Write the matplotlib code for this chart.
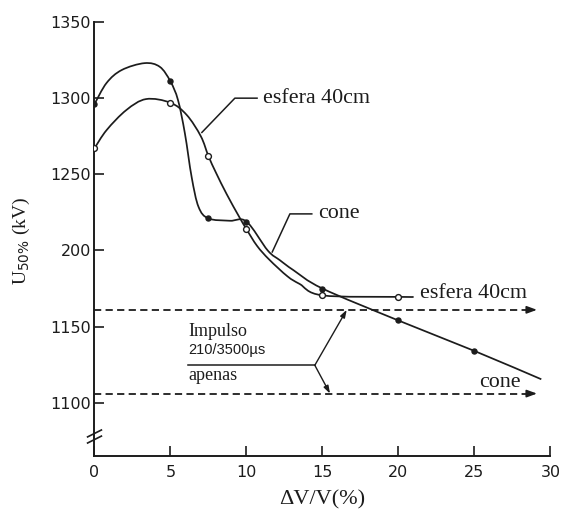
import numpy as np
import matplotlib
matplotlib.use("Agg")
import matplotlib.pyplot as plt
from matplotlib.path import Path
from matplotlib.patches import PathPatch

plt.rcParams["mathtext.fontset"] = "custom"
plt.rcParams["mathtext.rm"] = "Liberation Serif"
plt.rcParams["mathtext.sf"] = "DejaVu Sans"

SERIF = "Liberation Serif"
SANS = "DejaVu Sans"
INK = "#1c1c1c"

# measured points (dV/V in %, U50% in kV)
cone_x = [0, 5, 7.5, 10, 15, 20, 25]
cone_u = [1296, 1311, 1221, 1219, 1175, 1154, 1134]
esfera_x = [0, 5, 7.5, 10, 15, 20]
esfera_u = [1267, 1297, 1262, 1214, 1170.5, 1169.5]

# hand-drawn fitted curves through the measurements
cone_curve_x = [0, 0.8, 1.8, 3.3, 4.3, 5, 5.5, 5.95, 6.4, 6.85, 7.5, 8.9, 10,
                11.4, 12.2, 13.1, 15, 20, 25, 29.4]
cone_curve_u = [1296, 1310, 1318.5, 1323, 1320.6, 1311, 1298.7, 1277, 1248,
                1228.6, 1221, 1219.5, 1219, 1200, 1193.6, 1187, 1175, 1154,
                1134, 1115.4]
esfera_curve_x = [0, 0.8, 2.1, 3.4, 5, 6.07, 7.0, 7.5, 8.0, 8.7, 9.5, 10,
                  10.7, 11.5, 12.7, 13.5, 15, 20, 21.0]
esfera_curve_u = [1267, 1279, 1292.2, 1299.4, 1297, 1289, 1275, 1262, 1251,
                  1237, 1222.5, 1214, 1203, 1194, 1183, 1178, 1170.5, 1169.5,
                  1169.5]

# flashover level with 210/3500 us impulse only
impulse_esfera = 1161
impulse_cone = 1106

y_ticks = [1100, 1150, 1200, 1250, 1300, 1350]
y_tick_labels = ["1100", "1150", "200", "1250", "1300", "1350"]
x_ticks = [0, 5, 10, 15, 20, 25, 30]
x_tick_labels = ["0", "5", "10", "15", "20", "25", "30"]
y_break = 1078


def smooth_path(xs, ys):
    """Catmull-Rom curve through the given points as a cubic Bezier path."""
    pts = np.column_stack([xs, ys]).astype(float)
    ext = np.vstack([pts[0], pts, pts[-1]])
    verts = [pts[0]]
    codes = [Path.MOVETO]
    for i in range(len(pts) - 1):
        p0, p1, p2, p3 = ext[i], ext[i + 1], ext[i + 2], ext[i + 3]
        verts += [p1 + (p2 - p0) / 6, p2 - (p3 - p1) / 6, p2]
        codes += [Path.CURVE4] * 3
    return Path(verts, codes)


fig = plt.figure(figsize=(5.62, 5.11), dpi=100, facecolor="white")
ax = fig.add_axes([0.168, 0.1076, 0.8114, 0.8493])
ax.set_xlim(0, 30)
ax.set_ylim(1065, 1350)

for s in ("top", "right"):
    ax.spines[s].set_visible(False)
for s in ("left", "bottom"):
    ax.spines[s].set_linewidth(1.4)
    ax.spines[s].set_color(INK)

ax.set_xticks(x_ticks)
ax.set_xticklabels(x_tick_labels, fontfamily=SANS)
ax.set_yticks(y_ticks)
ax.set_yticklabels(y_tick_labels, fontfamily=SANS)
ax.tick_params(direction="in", length=7, width=1.2, colors=INK,
               labelsize=11.5)
ax.tick_params(axis="x", pad=6.5)
ax.tick_params(axis="y", pad=2.5)

# axis break on U
brk = Path([(-1, -0.9), (1, 0.1), (-1, -0.1), (1, 0.9)],
           [Path.MOVETO, Path.LINETO, Path.MOVETO, Path.LINETO])
ax.plot([0], [y_break], marker=brk, markersize=11, mew=1.2, mec=INK,
        mfc="none", clip_on=False, zorder=5)

# curves
for cx, cu in ((cone_curve_x, cone_curve_u), (esfera_curve_x, esfera_curve_u)):
    ax.add_patch(PathPatch(smooth_path(cx, cu), fill=False, lw=1.25,
                           edgecolor=INK, clip_on=False, zorder=3))

ax.plot(cone_x, cone_u, "o", ms=3.6, mfc=INK, mec=INK, zorder=4)
ax.plot(esfera_x, esfera_u, "o", ms=4.2, mfc="white", mec=INK, mew=1.0,
        zorder=4)

# dashed impulse-only levels with arrow heads
arrow_end = 29.3
for level in (impulse_esfera, impulse_cone):
    ax.plot([0, arrow_end - 0.6], [level, level], ls="--", lw=1.3,
            dashes=(4, 2.4), color=INK, zorder=2)
    ax.annotate("", xy=(arrow_end, level), xytext=(arrow_end - 0.8, level),
                arrowprops=dict(arrowstyle="-|>,head_length=0.6,head_width=0.22",
                                color=INK, lw=1.2))

# curve labels with leaders
lbl = dict(fontfamily=SERIF, fontsize=15.8, color=INK, va="center", ha="left")
ax.plot([7.07, 9.24, 10.7], [1277.5, 1300, 1300], color=INK, lw=1.1)
ax.text(11.1, 1300, "esfera 40cm", **lbl)
ax.plot([11.7, 12.86, 14.3], [1199, 1224, 1224], color=INK, lw=1.1)
ax.text(14.7, 1224, "cone", **lbl)
ax.text(21.45, 1171.5, "esfera 40cm", **lbl)
ax.text(25.3, 1113, "cone", **lbl)

# impulse note
note = dict(fontfamily=SERIF, fontsize=13, color=INK, va="center", ha="left")
ax.text(6.17, 1147, "Impulso", **note)
ax.text(6.17, 1134.5, "210/3500\u00b5s", fontfamily="Liberation Sans",
        fontsize=10.5, color=INK, va="center", ha="left")
ax.text(6.17, 1118, "apenas", **note)
branch = (14.5, 1124.6)
ax.plot([6.17, branch[0]], [branch[1], branch[1]], color=INK, lw=1.1)
for tip in ((16.6, impulse_esfera), (15.5, impulse_cone)):
    ax.annotate("", xy=tip, xytext=branch,
                arrowprops=dict(arrowstyle="-|>,head_length=0.45,head_width=0.15",
                                color=INK, lw=1.0, shrinkA=0, shrinkB=0))

fig.text(322 / 562, 1 - 500 / 511, "\u0394V/V(%)", fontfamily=SERIF,
         fontsize=16, color=INK, ha="center", va="center")
fig.text(21 / 562, 1 - 241 / 511, r"U$_{\mathsf{50\%}}$ (kV)",
         fontfamily=SERIF, fontsize=14, color=INK, ha="center", va="center",
         rotation=90)

fig.savefig("out.png", dpi=100, facecolor="white")
